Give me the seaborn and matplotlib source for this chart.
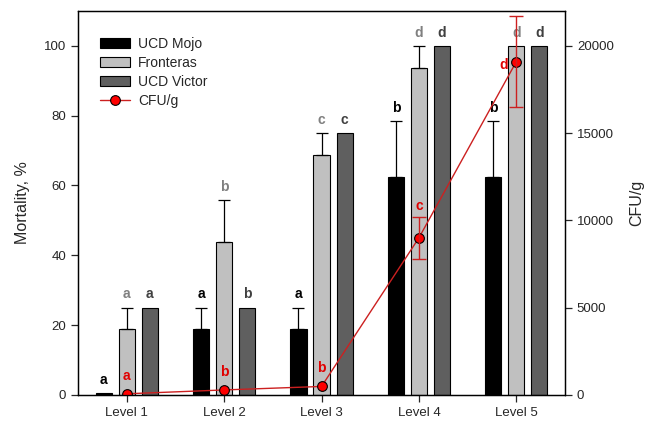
import numpy as np
import pandas as pd
import matplotlib
matplotlib.use("Agg")
import matplotlib.pyplot as plt
import seaborn as sns

# data
levels = ["Level 1", "Level 2", "Level 3", "Level 4", "Level 5"]
cultivars = ["UCD Mojo", "Fronteras", "UCD Victor"]
mojo = [0.5, 18.75, 18.75, 62.5, 62.5]
mojo_err = [0, 6.25, 6.25, 16, 16]
fronteras = [18.75, 43.75, 68.75, 93.75, 100]
fronteras_err = [6.25, 12, 6.25, 6.25, 0]
victor = [25, 25, 75, 100, 100]
victor_err = [0, 0, 0, 0, 0]
mojo_letters = ["a", "a", "a", "b", "b"]
fronteras_letters = ["a", "b", "c", "d", "d"]
victor_letters = ["a", "b", "c", "d", "d"]
cfu = [60, 280, 480, 9000, 19100]
cfu_err = [0, 0, 0, 1200, 2600]
cfu_letters = ["a", "b", "b", "c", "d"]

sns.set_style("ticks")
plt.rcParams["font.family"] = ["Liberation Sans", "DejaVu Sans"]

palette = {"UCD Mojo": "#000000", "Fronteras": "#c0c0c0", "UCD Victor": "#5f5f5f"}
letter_colors = ["#000000", "#808080", "#404040"]
red_line = "#cc2020"

df = pd.DataFrame({
    "level": levels * 3,
    "cultivar": np.repeat(cultivars, len(levels)),
    "mortality": mojo + fronteras + victor,
})

fig, ax = plt.subplots(figsize=(6.45, 4.25), dpi=100)
fig.subplots_adjust(left=0.121, right=0.876, bottom=0.071, top=0.974)

sns.barplot(data=df, x="level", y="mortality", hue="cultivar", hue_order=cultivars,
            palette=palette, saturation=1, width=0.71, gap=0.3, errorbar=None,
            edgecolor="black", linewidth=0.8, ax=ax)
ax.set_ylim(0, 110)

errs = [mojo_err, fronteras_err, victor_err]
letters = [mojo_letters, fronteras_letters, victor_letters]
for cont, err, lets, lc in zip(ax.containers, errs, letters, letter_colors):
    for bar, e, lt in zip(cont.patches, err, lets):
        x = bar.get_x() + bar.get_width() / 2
        h = bar.get_height()
        if e > 0:
            ax.errorbar(x, h, yerr=[[0], [e]], fmt="none", ecolor="black",
                        elinewidth=0.9, capsize=4, capthick=0.9, zorder=1)
        ax.text(x, h + e + 2.7, lt, ha="center", va="baseline", color=lc,
                fontsize=10, fontweight="bold")

handles, labels = ax.get_legend_handles_labels()
ax.legend_.remove()

ax2 = ax.twinx()
sns.pointplot(x=levels, y=cfu, color=red_line, markers="o", errorbar=None,
              markersize=7, markerfacecolor="red", markeredgecolor="black",
              markeredgewidth=0.8, linewidth=1, ax=ax2)
xs = ax.get_xticks()
ax2.errorbar([x for x, e in zip(xs, cfu_err) if e > 0],
             [v for v, e in zip(cfu, cfu_err) if e > 0],
             yerr=[e for e in cfu_err if e > 0], fmt="none", ecolor=red_line,
             elinewidth=1, capsize=5, capthick=1)
ax2.set_ylim(0, 22000)
top = ax2.get_ylim()[1]
for x, v, e, lt in zip(xs, cfu, cfu_err, cfu_letters):
    off = 370 if e > 0 else 800
    if v + e + off + 600 > top:
        ax2.text(x - 0.09, v - 200, lt, ha="right", va="center", color="#e00000",
                 fontsize=10, fontweight="bold")
    else:
        ax2.text(x, v + e + off, lt, ha="center", va="baseline", color="#e00000",
                 fontsize=10, fontweight="bold")

ax.set_xlim(-0.5, 4.5)
ax.set_xticks(range(len(levels)))
ax.set_xticklabels(levels)
ax.set_xlabel("")
ax.set_ylabel("Mortality, %", fontsize=11.5, labelpad=10)
ax2.set_ylabel("CFU/g", fontsize=11.5, labelpad=11)
ax.set_yticks([0, 20, 40, 60, 80, 100])
ax2.set_yticks([0, 5000, 10000, 15000, 20000])
for a in (ax, ax2):
    a.tick_params(labelsize=9.5, length=5, width=0.9, direction="out")
    for s in a.spines.values():
        s.set_linewidth(0.9)
        s.set_color("black")

line = ax2.lines[0]
handles.append(line)
labels.append("CFU/g")
ax2.legend(handles, labels, loc="upper left", bbox_to_anchor=(0.03, 0.95),
           frameon=False, borderpad=0, fontsize=10, handlelength=2.2,
           handleheight=0.75, labelspacing=0.35, handletextpad=0.55)

fig.savefig("out.png", dpi=100)
